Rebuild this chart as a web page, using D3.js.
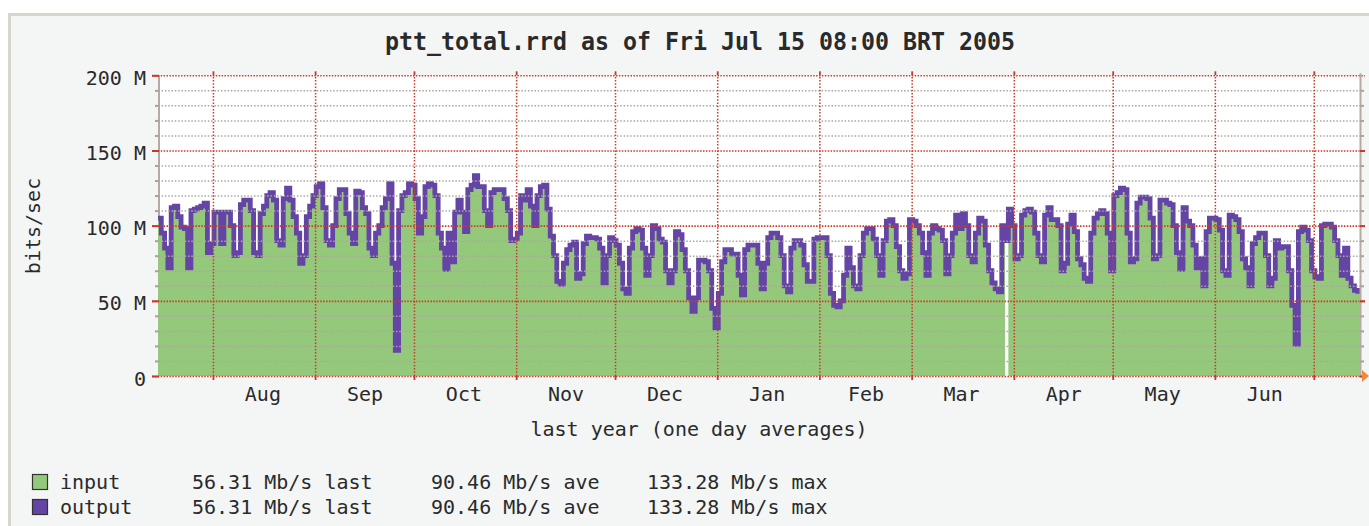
<!DOCTYPE html>
<html><head><meta charset="utf-8">
<script src="https://cdn.jsdelivr.net/npm/d3@7"></script>
<style>
html,body{margin:0;padding:0;background:#fff;}
svg{display:block;}
text{font-family:"DejaVu Sans Mono",monospace;fill:#2a2a2a;}
</style></head><body>
<svg id="chart" width="1369" height="526"></svg>
<script>
// ---------------- data ----------------
const titleText = "ptt_total.rrd as of Fri Jul 15 08:00 BRT 2005";
const xAxisTitle = "last year (one day averages)";
const yAxisTitle = "bits/sec";
const startTime = Date.UTC(2004, 6, 15, 8);
const endTime = Date.UTC(2005, 6, 15, 8);
const monthStarts = [[2004,7],[2004,8],[2004,9],[2004,10],[2004,11],[2005,0],[2005,1],[2005,2],[2005,3],[2005,4],[2005,5],[2005,6]];
const monthLabels = ["Aug","Sep","Oct","Nov","Dec","Jan","Feb","Mar","Apr","May","Jun"];
const monthLabelDates = [[2004,7,16],[2004,8,16],[2004,9,16],[2004,10,16],[2004,11,16],[2005,0,16],[2005,1,15],[2005,2,16],[2005,3,16],[2005,4,16],[2005,5,16]];
const yMajorTicks = [0, 50e6, 100e6, 150e6, 200e6];
const yMajorLabels = ["0", "50 M", "100 M", "150 M", "200 M"];
const yMinorTicks = [10e6,20e6,30e6,40e6,60e6,70e6,80e6,90e6,110e6,120e6,130e6,140e6,160e6,170e6,180e6,190e6];
// one-day averages, Mb/s, day 0 = Jul 15 2004
const outputMbps = [
105,95,85,72,112,113,106,99,98,72,110,111,112,113,115,82,88,109,109,88,
109,109,100,80,82,114,117,117,110,82,80,108,113,120,122,117,90,87,118,125,
117,106,95,75,80,106,113,120,126,128,112,90,87,100,118,124,124,108,95,88,
123,122,112,108,85,80,95,100,112,118,128,75,17,110,120,122,128,127,118,95,
106,126,128,127,120,95,85,71,95,76,109,117,109,96,124,127,133.28,126,126,110,
100,122,124,124,124,118,110,90,91,95,120,117,124,113,100,120,126,127,111,93,
80,63,61,75,84,87,89,65,68,88,93,92,92,91,85,62,80,92,90,87,
75,58,55,85,96,98,97,85,67,80,100,98,91,89,70,62,70,96,94,84,
70,52,43,52,77,77,76,70,45,32,55,76,84,84,81,81,67,54,84,87,
87,87,75,58,75,92,95,95,92,80,60,56,85,90,90,87,74,63,63,91,
92,92,92,80,55,47,46,50,67,85,72,60,58,80,95,98,98,91,80,67,
90,103,104,100,86,70,65,68,104,103,100,95,82,67,95,100,98,97,90,68,
80,95,107,98,108,100,80,76,95,105,103,87,70,62,58,56,100,90,111,100,
78,80,107,110,111,109,95,80,76,107,112,104,104,100,70,75,101,107,96,78,
74,65,63,95,105,108,110,108,95,70,120,122,125,124,95,76,78,115,119,119,
118,105,78,80,117,117,115,114,100,82,71,112,103,100,87,72,78,60,96,105,
105,104,97,70,67,107,106,104,96,78,72,60,88,92,95,95,80,60,65,90,
85,86,86,70,47,21,96,99,97,90,70,66,65,100,101,101,99,90,80,67,
85,65,60,57,56.31
];
const inputMissingDays = [257];
const seriesNames = ["input", "output"];
const seriesColors = ["#94c97b", "#6444a4"];
const legendLast = ["56.31 Mb/s last", "56.31 Mb/s last"];
const legendAve = ["90.46 Mb/s ave", "90.46 Mb/s ave"];
const legendMax = ["133.28 Mb/s max", "133.28 Mb/s max"];

// ---------------- drawing ----------------
const svg = d3.select("#chart");
const W = 1369, H = 526;
const plot = {left: 158, right: 1361, top: 75.3, bottom: 376};
const DAY = 864e5;

const x = d3.scaleUtc().domain([new Date(startTime), new Date(endTime)]).range([plot.left, plot.right]);
const y = d3.scaleLinear().domain([0, 200e6]).range([plot.bottom, plot.top]);

// frame
svg.append("rect").attr("x",0).attr("y",0).attr("width",W).attr("height",H).attr("fill","#fff");
svg.append("rect").attr("x",8).attr("y",13).attr("width",W-8).attr("height",H-13).attr("fill","#d8d4ce");
svg.append("rect").attr("x",11).attr("y",16).attr("width",W-11).attr("height",H-16).attr("fill","#f4f6f6");
// plot canvas
svg.append("rect").attr("x",plot.left).attr("y",plot.top).attr("width",plot.right-plot.left).attr("height",plot.bottom-plot.top).attr("fill","#fff");

// left axis line (under the area)
svg.append("line").attr("x1",159).attr("x2",159).attr("y1",plot.top).attr("y2",plot.bottom).attr("stroke","#b4aca4").attr("stroke-width",2);

// data in step form
const days = outputMbps.map((v,i)=>({
  t0: new Date(startTime + i*DAY), t1: new Date(startTime + (i+1)*DAY),
  out: v*1e6, inp: inputMissingDays.includes(i) ? null : v*1e6
}));
const stepPts = key => days.flatMap(d => [{t:d.t0, v:d[key]}, {t:d.t1, v:d[key]}]);

const area = d3.area().defined(p=>p.v!=null).x(p=>x(p.t)).y0(y(0)).y1(p=>y(p.v));
const line = d3.line().defined(p=>p.v!=null).x(p=>x(p.t)).y(p=>y(p.v));

svg.append("path").datum(stepPts("inp")).attr("d",area).attr("fill",seriesColors[0]);
svg.append("path").datum(stepPts("out")).attr("d",line).attr("fill","none")
  .attr("stroke",seriesColors[1]).attr("stroke-width",4.8).attr("stroke-linejoin","miter");

// grid (on top)
const minorGrid = svg.append("g").attr("transform",`translate(${plot.left-3},0)`)
  .call(d3.axisRight(y).tickValues(yMinorTicks).tickSize(plot.right-plot.left+6).tickFormat(""));
minorGrid.select(".domain").remove();
minorGrid.selectAll("line").attr("stroke","#ada69e").attr("stroke-width",1.5).attr("stroke-dasharray","1.5,1.8");

const monthDates = monthStarts.map(([yy,mm])=>new Date(Date.UTC(yy,mm,1)));
const vGrid = svg.append("g").attr("transform",`translate(0,${plot.bottom})`)
  .call(d3.axisTop(x).tickValues(monthDates).tickSize(plot.bottom-plot.top).tickFormat(""));
vGrid.select(".domain").remove();
vGrid.selectAll("line").attr("stroke","#cc3a28").attr("stroke-width",1.5).attr("stroke-dasharray","1.5,1.7");

const majorGrid = svg.append("g").attr("transform",`translate(${plot.left-6},0)`)
  .call(d3.axisRight(y).tickValues(yMajorTicks).tickSize(plot.right-plot.left+10).tickFormat(""));
majorGrid.select(".domain").remove();
majorGrid.selectAll("line").attr("stroke","#cc3a28").attr("stroke-width",1.6).attr("stroke-dasharray","1.5,1.4");

// solid tick marks on left / right
const tickStyle = (g, color, w) => { g.select(".domain").remove(); g.selectAll("line").attr("stroke",color).attr("stroke-width",w); };
svg.append("g").attr("transform",`translate(${plot.left+1},0)`).call(d3.axisLeft(y).tickValues(yMinorTicks).tickSize(4).tickFormat("")).call(tickStyle,"#aaa49c",2);
svg.append("g").attr("transform",`translate(${plot.left+1},0)`).call(d3.axisLeft(y).tickValues(yMajorTicks).tickSize(7).tickFormat("")).call(tickStyle,"#c8382a",2);
// right axis line
svg.append("line").attr("x1",1360.5).attr("x2",1360.5).attr("y1",plot.top-2).attr("y2",plot.bottom).attr("stroke","#b4aca4").attr("stroke-width",2);
svg.append("g").attr("transform",`translate(1360,0)`).call(d3.axisRight(y).tickValues(yMinorTicks).tickSize(4).tickFormat("")).call(tickStyle,"#aaa49c",2);
svg.append("g").attr("transform",`translate(1360,0)`).call(d3.axisRight(y).tickValues(yMajorTicks.slice(0,4)).tickSize(5).tickFormat("")).call(tickStyle,"#c8382a",2);
// month ticks top and bottom
svg.append("g").attr("transform",`translate(0,${plot.top})`).call(d3.axisTop(x).tickValues(monthDates).tickSize(4).tickFormat("")).call(tickStyle,"#c8382a",1.8);
svg.append("g").attr("transform",`translate(0,${plot.bottom})`).call(d3.axisBottom(x).tickValues(monthDates).tickSize(4).tickFormat("")).call(tickStyle,"#c8382a",1.8);

// orange arrow at end of x axis
svg.append("path").attr("d","M1362,370 L1369,376 L1362,382 Z").attr("fill","#f08a3a");

// y labels
const yLab = svg.append("g").attr("transform",`translate(${plot.left},0)`)
  .call(d3.axisLeft(y).tickValues(yMajorTicks).tickSize(6).tickPadding(6).tickFormat((d,i)=>yMajorLabels[i]));
yLab.select(".domain").remove();
yLab.selectAll("line").remove();
yLab.selectAll("text").attr("font-family","DejaVu Sans Mono, monospace").attr("font-size",20).attr("fill","#2a2a2a").attr("dy","0.45em");

// x labels
const labelDates = monthLabelDates.map(([yy,mm,dd])=>new Date(Date.UTC(yy,mm,dd)));
const xLab = svg.append("g").attr("transform",`translate(0,${plot.bottom})`)
  .call(d3.axisBottom(x).tickValues(labelDates).tickSize(0).tickPadding(10.5).tickFormat((d,i)=>monthLabels[i]));
xLab.select(".domain").remove();
xLab.selectAll("line").remove();
xLab.selectAll("text").attr("font-family","DejaVu Sans Mono, monospace").attr("font-size",20).attr("fill","#2a2a2a");

// titles
svg.append("text").attr("x",700).attr("y",50).attr("text-anchor","middle")
  .attr("font-size",24).attr("font-weight","bold").attr("fill","#1e1e1e").attr("textLength",630).attr("lengthAdjust","spacingAndGlyphs").text(titleText);
svg.append("text").attr("x",699).attr("y",436).attr("text-anchor","middle").attr("font-size",20).text(xAxisTitle);
svg.append("text").attr("transform","translate(40,226) rotate(-90)").attr("text-anchor","middle").attr("font-size",20).text(yAxisTitle);

// legend
const legendY = [482, 507];
seriesNames.forEach((name,i)=>{
  const cy = legendY[i];
  svg.append("rect").attr("x",32.5).attr("y",cy-7.5).attr("width",15).attr("height",15)
    .attr("fill",seriesColors[i]).attr("stroke","#333").attr("stroke-width",1.2);
  const t = (xx,s)=>svg.append("text").attr("x",xx).attr("y",cy+7).attr("font-size",20).text(s);
  t(60,name); t(192,legendLast[i]); t(431,legendAve[i]); t(647,legendMax[i]);
});
</script>
</body></html>
